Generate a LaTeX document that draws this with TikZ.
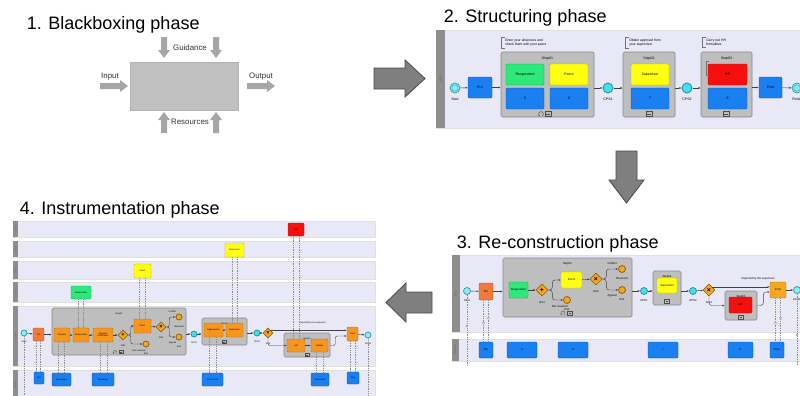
\documentclass[tikz,border=0pt]{standalone}
\usepackage{fontspec}
\setmainfont{Liberation Sans}
\usetikzlibrary{arrows.meta,shapes.geometric,calc}
\definecolor{lane}{HTML}{E8E8F7}
\definecolor{bandgrey}{HTML}{8E8E8E}
\definecolor{stepgrey}{HTML}{BEBEBE}
\definecolor{stepedge}{HTML}{8A8A8A}
\definecolor{bbox}{HTML}{C0C0C0}
\definecolor{smallgrey}{HTML}{A6A6A6}
\definecolor{arrowgrey}{HTML}{7F7F7F}
\definecolor{pblue}{HTML}{1A7FF0}
\definecolor{pgreen}{HTML}{2EE87A}
\definecolor{pyellow}{HTML}{FFFF10}
\definecolor{pred}{HTML}{F51010}
\definecolor{porange}{HTML}{F7961E}
\definecolor{ppre}{HTML}{F27A3A}
\definecolor{ppost}{HTML}{F5A623}
\definecolor{evfill}{HTML}{3FE0E8}
\definecolor{evedge}{HTML}{2A9AA8}

\newcommand{\uu}{0.025cm}
\newcommand{\fsz}[1]{\fontsize{#1}{#1}\selectfont}
% box from corner (x1,y1) to (x2,y2), in pixels of the reference
\newcommand{\bx}[7]{\node[#2, minimum width={(#5-#3)*\uu}, minimum height={(#6-#4)*\uu}] (#1) at ({(#3+#5)/2},{(#4+#6)/2}) {#7};}
\newcommand{\garrow}[4]{\fill[smallarr, shift={(#1,#2)}, rotate=#3] (0,-3) -- ({#4-8},-3) -- ({#4-8},-6) -- (#4,0) -- ({#4-8},6) -- ({#4-8},3) -- (0,3) -- cycle;}
\newcommand{\collapsed}[3]{\draw[markline] ({#1-#3},{#2-0.8*#3}) rectangle ({#1+#3},{#2+0.8*#3}) ({#1-0.6*#3},#2) -- ({#1+0.6*#3},#2);}
\newcommand{\loopmark}[3]{\draw[markline, -{Latex[length=0.8pt,width=1pt]}] ({#1+0.5*#3},{#2+0.87*#3}) arc[start angle=-60, end angle=240, radius=#3*\uu];}
\newcommand{\annobr}[1]{\draw[annoline] ($(#1.north west)+(0,-1.5)$) -- ++(-4,0) |- ($(#1.south west)+(0,1.5)$);}
\newcommand{\assocpair}[4]{\draw[assoc] ([xshift=#3*\uu]#1.south) -- ([xshift=#3*\uu]#1.south |- #2.north);
  \draw[assoc] ([xshift=#4*\uu]#1.south) -- ([xshift=#4*\uu]#1.south |- #2.north);}

\tikzset{
  title/.style={font=\fsz{12.8}, inner sep=0, anchor=base west},
  blbl/.style={font=\fsz{5.6}, inner sep=0, text=black!80},
  pool/.style={fill=lane, draw=black!12, line width=0.3pt, inner sep=0},
  band/.style={fill=bandgrey, inner sep=0, text=black!60},
  stepbox/.style={fill=stepgrey, draw=stepedge, line width=0.4pt, rounded corners=1pt, inner sep=0},
  task/.style={fill=#1, draw=#1!70!black, line width=0.3pt, rounded corners=0.8pt, inner sep=0, align=center},
  event/.style={circle, fill=evfill, draw=evedge, line width=0.5pt, inner sep=0, minimum size=#1*\uu},
  endev/.style={circle, fill=ppost, draw=ppost!60!black, line width=0.6pt, inner sep=0, minimum size=#1*\uu},
  gate/.style={diamond, fill=ppost, draw=ppost!60!black, line width=0.4pt, inner sep=0, minimum size=#1*\uu},
  flow/.style={draw=black!75, line width=0.3pt, -{Latex[length=1.6pt,width=1.3pt]}},
  assoc/.style={draw=black!45, line width=0.25pt, densely dotted},
  amark/.style={circle, draw=black!45, fill=white, line width=0.25pt, inner sep=0, minimum size=2.4*\uu},
  markline/.style={draw=black!70, line width=0.3pt},
  annoline/.style={draw=black!55, line width=0.3pt},
  anno/.style={inner sep=0, align=left, font=\fontsize{2.4}{3}\selectfont},
  bigarr/.style={fill=arrowgrey, draw=black!70, line width=0.6pt},
  smallarr/.style={fill=smallgrey}
}

\begin{document}
\begin{tikzpicture}[x=0.025cm, y=-0.025cm]
\useasboundingbox (0,0) rectangle (800,395);
\clip (0,0) rectangle (800,395);
\fill[white] (0,0) rectangle (800,395);

% 1. Blackboxing phase
\node[title] (t1) at (26.5,29.5) {1. Blackboxing phase};
\bx{blackbox}{fill=bbox, draw=black!30, line width=0.4pt}{130}{62}{238}{110}{}
\garrow{100}{86}{0}{28}
\garrow{247}{86}{0}{28}
\garrow{164}{37}{-90}{21}
\garrow{216}{37}{-90}{21}
\garrow{164}{133}{90}{21}
\garrow{216}{133}{90}{21}
\node[blbl] (input) at (110,77) {Input};
\node[blbl] (output) at (261,77) {Output};
\node[blbl] (guidance) at (190,48) {Guidance};
\node[blbl] (resources) at (190,122) {Resources};

% arrows between the phases
\filldraw[bigarr] (374,68) -- (405,68) -- (405,60) -- (425,78.5) -- (405,97) -- (405,89) -- (374,89) -- cycle;
\filldraw[bigarr] (616,151) -- (637,151) -- (637,180) -- (644,180) -- (626.5,203) -- (609,180) -- (616,180) -- cycle;
\filldraw[bigarr] (432,292) -- (406,292) -- (406,283) -- (386,302.5) -- (406,322) -- (406,313) -- (432,313) -- cycle;

% 2. Structuring phase
\node[title] (t2) at (443.5,22.5) {2. Structuring phase};
\begin{scope}[nodes={font=\fsz{2.5}}]
\bx{poolB}{pool}{436}{30}{810}{128}{}
\bx{bandB}{band}{436}{30}{445}{128}{\rotatebox{90}{User}}
\node[event=10, fill=evfill!60, label={below:Start}] (startB) at (455,88) {};
\draw[evedge, line width=0.25pt] (startB) circle (3.2*\uu);
\bx{preB}{task=pblue}{468}{77}{492}{98}{Pre}
\bx{stepB1}{stepbox, label={[anchor=north]north:Step01}}{501}{52}{594}{117}{}
\bx{respB}{task=pgreen}{506}{64}{544}{85}{Respondent}
\bx{peersB}{task=pyellow}{550}{64}{588}{85}{Peers}
\bx{fiveB}{task=pblue}{506}{88}{544}{109}{5}
\bx{sixB}{task=pblue}{550}{88}{588}{109}{6}
\loopmark{541}{114}{2.4}
\collapsed{548}{114}{3}
\node[event=10, line width=0.7pt, label={below:CPS1}] (cpsB1) at (608,88) {};
\bx{stepB2}{stepbox, label={[anchor=north]north:Step02}}{623}{52}{675}{117}{}
\bx{supB}{task=pyellow}{631}{64}{669}{85}{Supervisor}
\bx{sevenB}{task=pblue}{631}{88}{669}{109}{7}
\collapsed{649}{114}{3}
\node[event=10, line width=0.7pt, label={below:CPS2}] (cpsB2) at (687,88) {};
\bx{stepB3}{stepbox, label={[anchor=north]north:Step03}}{701}{52}{752}{117}{}
\bx{hrB}{task=pred}{708}{64}{747}{85}{HR}
\bx{eightB}{task=pblue}{708}{88}{747}{109}{8}
\draw[annoline] (709,61) -- (706,61) -- (706,75) -- (709,75);
\collapsed{726}{114}{3}
\bx{postB}{task=pblue}{759}{77}{782}{98}{Post}
\node[event=10, fill=evfill!60, label={below:Finish}] (finB) at (797,88) {};
\draw[evedge, line width=0.25pt] (finB) circle (3.2*\uu);
\node[anno, anchor=north west] (annoB1) at (505,38.5) {Enter your absences and\\check them with your peers};
\node[anno, anchor=north west] (annoB2) at (629,38.5) {Obtain approval from\\your supervisor};
\node[anno, anchor=north west] (annoB3) at (706,38.5) {Carry out HR\\formalities};
\annobr{annoB1}
\annobr{annoB2}
\annobr{annoB3}
\draw[flow] (startB) -- (preB);
\draw[flow] (preB) -- (preB -| stepB1.west);
\draw[flow] (stepB1.east |- cpsB1) -- (cpsB1);
\draw[flow] (cpsB1) -- (cpsB1 -| stepB2.west);
\draw[flow] (stepB2.east |- cpsB2) -- (cpsB2);
\draw[flow] (cpsB2) -- (cpsB2 -| stepB3.west);
\draw[flow] (stepB3.east |- postB) -- (postB);
\draw[flow] (postB) -- (finB);
\end{scope}

% 3. Re-construction phase
\node[title] (t3) at (456.5,248.5) {3. Re-construction phase};
\begin{scope}[nodes={font=\fsz{2}}]
\bx{poolC}{pool}{452}{255}{810}{332}{}
\bx{bandC}{band}{452}{255}{460}{332}{\rotatebox{90}{User}}
\bx{poolCs}{pool}{452}{339}{810}{361}{}
\bx{bandCs}{band}{452}{339}{459}{361}{\rotatebox{90}{System}}
\node[event=7, fill=evfill!60, label={below:Start}] (startC) at (467,291) {};
\bx{preC}{task=ppre}{479}{283}{493}{300}{Pre}
\bx{stepC1}{stepbox, label={[anchor=north]north:Step01}}{503}{258}{632}{317}{}
\bx{respC}{task=pgreen}{509}{282}{528}{298}{Respondent}
\node[gate=12, label={below:GS1}] (gsC1) at (542,290) {\fsz{5}\bfseries +};
\bx{peersC}{task=pyellow}{561}{272}{582}{288}{Peers}
\node[gate=12, label={below:GS2}] (gsC2) at (596,279) {\fsz{5}\bfseries ×};
\node[endev=7, label={below:Resolved}] (resC) at (622,269) {};
\node[endev=7, label={below:Exit}] (exitC) at (622,290) {};
\node[endev=7, label={below:Exit}] (nrC) at (567,300) {};
\loopmark{563}{313}{2}
\collapsed{570}{313}{2.4}
\node[event=7, line width=0.6pt, label={below:CPS1}] (cpsC1) at (644,291) {};
\bx{stepC2}{stepbox, label={[anchor=north]north:Step02}}{653}{271}{681}{305}{}
\bx{supC}{task=pyellow}{657}{278}{677}{293}{Supervisor}
\collapsed{667}{301}{2.4}
\node[event=7, line width=0.6pt, label={below:CPS2}] (cpsC2) at (693,291) {};
\node[gate=12, label={below:GS3}] (gsC3) at (709,290) {\fsz{5}\bfseries ×};
\bx{stepC3}{stepbox, label={[anchor=north]north:Step03}}{725}{291}{757}{320}{}
\bx{hrC}{task=pred}{729}{297}{752}{313}{HR}
\collapsed{741}{317}{2.4}
\bx{postC}{task=ppost}{770}{282}{786}{298}{Post}
\node[event=7, fill=evfill!60, label={below:Finish}] (finC) at (797,290) {};
\draw[flow] (startC) -- (preC);
\draw[flow] (preC) -- (preC -| stepC1.west);
\draw[flow] (respC) -- (gsC1);
\draw[flow, rounded corners=2pt] (gsC1.east) -- ++(4,0) |- (peersC.west);
\draw[flow, rounded corners=2pt] (gsC1.east) -- ++(4,0) |- (nrC.west) node[pos=0.85, below=0.5pt] {Not resolved};
\draw[flow] (peersC) -- (gsC2);
\draw[flow, rounded corners=2pt] (gsC2.east) -- ++(4,0) |- (resC.west) node[pos=0.75, above] {Conflict};
\draw[flow, rounded corners=2pt] (gsC2.east) -- ++(4,0) |- (exitC.west) node[pos=0.75, below] {Agreed};
\draw[flow] (stepC1.east |- cpsC1) -- (cpsC1);
\draw[flow] (cpsC1) -- (cpsC1 -| stepC2.west);
\draw[flow] (stepC2.east |- cpsC2) -- (cpsC2);
\draw[flow] (cpsC2) -- (gsC3);
\draw[flow] (gsC3.north east) -- (gsC3.north east -| postC.west) node[pos=0.8, above=1pt] {Rejected by the supervisor};
\draw[flow, rounded corners=2pt] (gsC3.south) |- (stepC3.west);
\draw[flow, rounded corners=2pt] (stepC3.east) -- ++(6,0) |- ([yshift=-2*\uu]postC.west);
\draw[flow] (postC) -- (finC);
\bx{preCs}{task=pblue}{479}{342}{493}{358}{Pre}
\bx{fiveC}{task=pblue}{507}{342}{537}{358}{5}
\bx{sixC}{task=pblue}{558}{342}{588}{358}{6}
\bx{sevenC}{task=pblue}{648}{342}{678}{358}{7}
\bx{eightC}{task=pblue}{728}{342}{753}{358}{8}
\bx{postCs}{task=pblue}{770}{342}{784}{358}{Post}
\draw[assoc] (startC.south) -- ++(0,72);
\draw[assoc] (finC.south) -- ++(0,72);
\assocpair{preC}{preCs}{-2.5}{2.5}
\assocpair{postC}{postCs}{-2.5}{2.5}
\node[amark] (amC1) at (467,326) {};
\node[amark] (amC2) at (483.5,323) {};
\node[amark] (amC3) at (488.5,318) {};
\node[amark] (amC4) at (775.5,323) {};
\node[amark] (amC5) at (780.5,318) {};
\node[amark] (amC6) at (797,335) {};
\end{scope}

% 4. Instrumentation phase
\node[title] (t4) at (19.5,214.5) {4. Instrumentation phase};
\begin{scope}[nodes={font=\fsz{1.6}}]
\bx{laneD1}{pool}{13}{221}{375}{237}{}
\bx{laneD2}{pool}{13}{241}{375}{257}{}
\bx{laneD3}{pool}{13}{261}{375}{279}{}
\bx{laneD4}{pool}{13}{282}{375}{302}{}
\bx{laneD5}{pool}{13}{306}{375}{366}{}
\bx{laneD6}{pool}{13}{370}{375}{400}{}
\bx{bandD1}{band}{13}{221}{18}{237}{\rotatebox{90}{Role}}
\bx{bandD2}{band}{13}{241}{18}{257}{\rotatebox{90}{Role}}
\bx{bandD3}{band}{13}{261}{18}{279}{\rotatebox{90}{Role}}
\bx{bandD4}{band}{13}{282}{18}{302}{\rotatebox{90}{Role}}
\bx{bandD5}{band}{13}{306}{18}{366}{\rotatebox{90}{User}}
\bx{bandD6}{band}{13}{370}{18}{400}{\rotatebox{90}{System}}
\bx{hrD}{task=pred}{288}{223}{304}{236}{HR}
\bx{supD}{task=pyellow}{225}{243}{244}{257}{Supervisor}
\bx{peersD}{task=pyellow}{134}{264}{151}{278}{Peers}
\bx{respD}{task=pgreen}{71}{286}{91}{299}{Respondent}
\node[event=6, fill=evfill!60, label={below:Start}] (startD) at (24,333) {};
\bx{preD}{task=ppre}{33}{328}{44}{341}{Pre}
\bx{stepD1}{stepbox, label={[anchor=north]north:Step01}}{52}{308}{186}{355}{}
\bx{prepD}{task=porange}{54}{328}{70}{342}{Prepare}
\bx{respDo}{task=porange}{73}{328}{89}{342}{Respondent}
\bx{reqD}{task=porange}{93}{328}{113}{342}{Request\\notification}
\node[gate=10, label={below:GS1}] (gsD1) at (123,335) {\fsz{4}\bfseries +};
\bx{peersDo}{task=porange}{134}{319}{151}{333}{Peers}
\node[gate=10, label={below:GS2}] (gsD2) at (161,327) {\fsz{4}\bfseries ×};
\node[endev=6, label={below:Resolved}] (resD) at (179,317) {};
\node[endev=6, label={below:Exit}] (exitD) at (179,337) {};
\node[endev=6, label={below:Exit}] (nrD) at (146,344) {};
\loopmark{115}{352}{1.7}
\collapsed{121}{352}{2}
\node[event=6, line width=0.6pt, label={below:CPS1}] (cpsD1) at (194,334) {};
\bx{stepD2}{stepbox, label={[anchor=north]north:Step02}}{202}{318}{247}{345}{}
\bx{aggD}{task=porange}{204}{323}{223}{337}{Aggregation}
\bx{supDo}{task=porange}{226}{323}{243}{337}{Supervisor}
\collapsed{224}{342}{2}
\node[event=6, line width=0.6pt, label={below:CPS2}] (cpsD2) at (257,333) {};
\node[gate=10, label={below:GS3}] (gsD3) at (268,333) {\fsz{4}\bfseries ×};
\bx{stepD3}{stepbox, label={[anchor=north]north:Step03}}{284}{333}{330}{357}{}
\bx{hrDo}{task=porange}{287}{339}{305}{352}{HR}
\bx{updD}{task=porange}{311}{339}{328}{352}{Update}
\collapsed{307}{355}{2}
\bx{postD}{task=porange}{347}{327}{358}{341}{Post}
\node[event=6, fill=evfill!60, label={below:Finish}] (finD) at (368,335) {};
\draw[flow] (startD) -- (preD);
\draw[flow] (preD) -- (preD -| stepD1.west);
\draw[flow] (prepD) -- (respDo);
\draw[flow] (respDo) -- (reqD);
\draw[flow] (reqD) -- (gsD1);
\draw[flow, rounded corners=1.5pt] (gsD1.east) -- ++(2.5,0) |- (peersDo.west);
\draw[flow, rounded corners=1.5pt] (gsD1.east) -- ++(2.5,0) |- (nrD.west) node[pos=0.85, below=0.5pt] {Not resolved};
\draw[flow] (peersDo) -- (gsD2);
\draw[flow, rounded corners=1.5pt] (gsD2.east) -- ++(3,0) |- (resD.west) node[pos=0.75, above] {Conflict};
\draw[flow, rounded corners=1.5pt] (gsD2.east) -- ++(3,0) |- (exitD.west) node[pos=0.75, below] {Agreed};
\draw[flow] (stepD1.east |- cpsD1) -- (cpsD1);
\draw[flow] (cpsD1) -- (cpsD1 -| stepD2.west);
\draw[flow] (aggD) -- (supDo);
\draw[flow] (stepD2.east |- cpsD2) -- (cpsD2);
\draw[flow] (cpsD2) -- (gsD3);
\draw[flow] (gsD3.north east) -- (gsD3.north east -| postD.west) node[pos=0.55, above=1pt] {Rejected by the supervisor};
\draw[flow, rounded corners=1.5pt] (gsD3.south) |- (hrDo.west);
\draw[flow] (hrDo) -- (updD);
\draw[flow, rounded corners=1.5pt] (stepD3.east |- updD) -- ++(5,0) |- ([yshift=-2*\uu]postD.west);
\draw[flow] (postD) -- (finD);
\bx{preDs}{task=pblue}{34}{372}{44}{384}{Pre}
\bx{docD1}{task=pblue}{52}{373}{71}{386}{Document}
\bx{docD2}{task=pblue}{92}{373}{114}{386}{Document}
\bx{docD3}{task=pblue}{202}{373}{223}{386}{Document}
\bx{docD4}{task=pblue}{311}{373}{329}{386}{Document}
\bx{postDs}{task=pblue}{347}{372}{359}{384}{Post}
\assocpair{respD}{respDo}{-3}{2}
\assocpair{peersD}{peersDo}{-3.5}{2.5}
\assocpair{supD}{supDo}{-2.5}{2.5}
\assocpair{hrD}{hrDo}{-3}{3}
\assocpair{preD}{preDs}{-2}{2}
\assocpair{prepD}{docD1}{-4}{2}
\assocpair{reqD}{docD2}{-3}{4}
\assocpair{aggD}{docD3}{-4}{2.5}
\assocpair{updD}{docD4}{-3.5}{3.5}
\assocpair{postD}{postDs}{-2.5}{2.5}
\draw[assoc] (startD.south) -- ++(0,70);
\draw[assoc] (finD.south) -- ++(0,70);
\end{scope}
\end{tikzpicture}
\end{document}
